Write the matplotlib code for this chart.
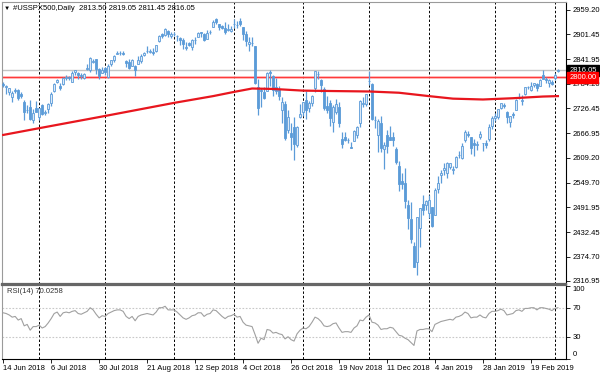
import numpy as np
import pandas as pd
import matplotlib
matplotlib.use("Agg")
import matplotlib.pyplot as plt

plt.rcParams['font.family'] = ['Liberation Sans', 'DejaVu Sans']

symbol = "#USSPX500,Daily"
holidays = ["2018-12-25", "2019-01-01"]

opens = [2783, 2777, 2765, 2752, 2769, 2770, 2760, 2742, 2722, 2729, 2699, 2728,
         2705, 2733, 2715, 2724, 2738, 2766, 2789, 2779, 2783, 2797, 2801, 2789,
         2811, 2810, 2804, 2799, 2820, 2817, 2837, 2842, 2819, 2809,
         2822, 2800, 2830, 2840, 2855, 2857, 2858, 2838, 2835, 2827, 2827, 2831,
         2838, 2853, 2861, 2860, 2860, 2862, 2885, 2901, 2900, 2909, 2898,
         2902, 2897, 2892, 2889, 2868, 2882, 2871, 2888, 2896, 2906, 2903, 2891,
         2906, 2919, 2937, 2925, 2921, 2917, 2911, 2910,
         2926, 2924, 2932, 2919, 2902, 2878, 2882, 2873, 2776, 2770, 2764, 2767,
         2811, 2802, 2776, 2773, 2721, 2737, 2675, 2667, 2682, 2640, 2706,
         2718, 2745, 2726, 2738, 2775, 2807, 2794, 2773, 2731, 2738, 2693, 2718,
         2730, 2654, 2657, 2650, 2634, 2649, 2664, 2691, 2736, 2737,
         2790, 2783, 2698, 2664, 2692, 2630, 2664, 2658, 2658, 2629, 2590, 2553,
         2548, 2496, 2465, 2401, 2363, 2442, 2499, 2498,
         2477, 2492, 2474, 2535, 2568, 2580, 2574, 2588, 2580, 2586, 2615, 2609,
         2652, 2666, 2658, 2643, 2638, 2657, 2644, 2644, 2653, 2685,
         2703, 2706, 2728, 2735, 2717, 2693, 2713, 2722, 2750, 2743, 2760, 2776,
         2770, 2781, 2784, 2780, 2805, 2795, 2787, 2789,
         2798, 2813.50]
highs = [2789, 2782, 2775, 2766, 2775, 2772, 2765, 2745, 2733, 2746, 2724, 2744,
         2727, 2737, 2722, 2738, 2764, 2785, 2795, 2785, 2800, 2805, 2803, 2814,
         2817, 2812, 2810, 2809, 2830, 2848, 2844, 2843, 2822, 2824,
         2825, 2830, 2841, 2853, 2863, 2862, 2862, 2841, 2843, 2843, 2828, 2850,
         2855, 2860, 2874, 2867, 2868, 2876, 2899, 2904, 2916, 2912, 2906,
         2907, 2900, 2894, 2893, 2884, 2884, 2891, 2895, 2906, 2908, 2905, 2912,
         2912, 2935, 2941, 2925, 2924, 2931, 2927, 2920,
         2937, 2932, 2940, 2919, 2910, 2894, 2894, 2874, 2795, 2775, 2776, 2813,
         2817, 2806, 2798, 2779, 2753, 2743, 2722, 2692, 2706, 2685, 2736,
         2741, 2767, 2744, 2757, 2815, 2815, 2795, 2776, 2755, 2746, 2735, 2747,
         2741, 2669, 2670, 2656, 2647, 2674, 2685, 2745, 2754, 2760,
         2815, 2786, 2708, 2700, 2708, 2646, 2674, 2685, 2671, 2635, 2601, 2573,
         2585, 2510, 2505, 2410, 2468, 2489, 2520, 2510,
         2520, 2493, 2538, 2566, 2580, 2596, 2598, 2597, 2590, 2612, 2626, 2645,
         2675, 2672, 2658, 2653, 2648, 2673, 2645, 2652, 2690, 2708,
         2716, 2725, 2738, 2739, 2720, 2709, 2718, 2748, 2762, 2758, 2776, 2779,
         2788, 2787, 2786, 2795, 2816, 2800, 2795, 2793,
         2809, 2819.05]
lows = [2776, 2761, 2757, 2741, 2762, 2745, 2751, 2698, 2715, 2699, 2692, 2717,
        2698, 2711, 2711, 2716, 2732, 2765, 2786, 2770, 2781, 2792, 2793, 2788,
        2806, 2796, 2795, 2795, 2816, 2812, 2833, 2808, 2796, 2809,
        2805, 2799, 2827, 2835, 2854, 2853, 2852, 2825, 2819, 2826, 2802, 2831,
        2833, 2850, 2858, 2856, 2853, 2860, 2884, 2893, 2898, 2895, 2893,
        2898, 2885, 2876, 2867, 2864, 2874, 2865, 2879, 2895, 2895, 2886, 2890,
        2903, 2918, 2927, 2912, 2913, 2903, 2910, 2907,
        2917, 2916, 2921, 2889, 2874, 2863, 2874, 2784, 2710, 2729, 2749, 2766,
        2779, 2756, 2760, 2746, 2692, 2651, 2667, 2628, 2604, 2635, 2703,
        2708, 2701, 2717, 2732, 2765, 2796, 2765, 2722, 2714, 2685, 2670, 2712,
        2681, 2631, 2648, 2644, 2631, 2649, 2656, 2682, 2729, 2732,
        2782, 2698, 2680, 2622, 2623, 2583, 2621, 2650, 2637, 2593, 2531, 2535,
        2489, 2441, 2408, 2351, 2332, 2397, 2473, 2486,
        2467, 2444, 2474, 2525, 2548, 2569, 2562, 2582, 2571, 2585, 2608, 2606,
        2647, 2658, 2617, 2613, 2628, 2654, 2624, 2633, 2648, 2678,
        2697, 2700, 2724, 2726, 2691, 2681, 2703, 2722, 2748, 2733, 2757, 2772,
        2767, 2776, 2767, 2778, 2795, 2787, 2776, 2782,
        2792, 2811.45]
closes = [2782, 2780, 2774, 2763, 2767, 2750, 2755, 2717, 2723, 2700, 2716, 2718,
          2727, 2713, 2718, 2737, 2760, 2784, 2794, 2774, 2798, 2801, 2798, 2810,
          2816, 2804, 2802, 2807, 2820, 2846, 2837, 2819, 2803, 2816,
          2813, 2827, 2840, 2850, 2858, 2858, 2854, 2833, 2822, 2840, 2818, 2841,
          2850, 2857, 2863, 2862, 2857, 2875, 2897, 2898, 2914, 2901, 2902,
          2903, 2897, 2889, 2878, 2872, 2877, 2888, 2889, 2904, 2905, 2889, 2904,
          2908, 2931, 2930, 2919, 2916, 2906, 2914, 2914,
          2925, 2923, 2926, 2902, 2886, 2884, 2880, 2786, 2728, 2767, 2751, 2810,
          2809, 2769, 2768, 2756, 2741, 2656, 2706, 2659, 2641, 2683, 2712,
          2740, 2723, 2738, 2755, 2814, 2807, 2781, 2726, 2722, 2702, 2730, 2736,
          2691, 2642, 2650, 2652, 2633, 2673, 2682, 2744, 2738, 2760,
          2790, 2700, 2698, 2696, 2633, 2638, 2637, 2651, 2651, 2600, 2546, 2546,
          2507, 2467, 2417, 2351, 2468, 2489, 2486, 2507,
          2510, 2448, 2532, 2550, 2574, 2585, 2597, 2596, 2583, 2610, 2616, 2636,
          2671, 2664, 2633, 2639, 2642, 2665, 2644, 2640, 2681, 2704,
          2707, 2725, 2738, 2732, 2706, 2708, 2710, 2745, 2753, 2746, 2776, 2777,
          2780, 2785, 2775, 2793, 2796, 2794, 2792, 2784,
          2804, 2816.05]

rsi = [63, 62, 60, 57, 58, 53, 55, 45, 47, 39, 44, 44, 46, 42, 44, 49, 55, 62, 64, 58,
       63, 64, 63, 65, 66, 62, 61, 63, 65, 70, 67, 61, 56, 59, 58, 62, 64, 66, 67, 67,
       65, 58, 55, 58, 52, 58, 60, 61, 62, 61, 60, 64, 70, 70, 72, 67, 67, 67, 64, 60,
       56, 54, 56, 59, 60, 63, 63, 58, 61, 62, 67, 66, 62, 58, 55, 58, 59, 61, 57, 58,
       50, 46, 45, 44, 33, 21, 28, 26, 40, 39, 35, 36, 34, 33, 27, 30, 26, 24, 34, 39,
       42, 41, 44, 50, 57, 55, 51, 45, 44, 45, 48, 49, 42, 36, 37, 37, 36, 42, 45, 53,
       52, 57, 60, 50, 49, 46, 40, 41, 41, 43, 42, 37, 32, 31, 28, 26, 22, 18, 38, 40,
       40, 41, 41, 37, 47, 49, 51, 52, 53, 54, 53, 57, 58, 60, 64, 62, 56, 57, 57, 60,
       57, 56, 62, 65, 65, 66, 68, 66, 60, 61, 62, 66, 67, 65, 69, 69, 70, 70, 67, 70,
       70, 69, 68, 66, 69, 70.0258]

# 200-day moving average, read at some bars
ma_bars = [0, 12, 34, 57, 70, 77, 83, 90, 100, 110, 122, 132, 142, 150, 160, 170, 180, 185]
ma_vals = [2663, 2679, 2708, 2739, 2755, 2765, 2773, 2772, 2768, 2767, 2766, 2763,
           2755, 2749, 2747, 2750, 2754, 2755]

price_ticks = [2959.20, 2901.45, 2841.95, 2784.20, 2726.45, 2666.95, 2609.20,
               2549.70, 2491.95, 2432.45, 2374.70, 2316.95]
rsi_ticks = [0, 30, 70, 100]
level = 2800.00

dates = pd.bdate_range("2018-06-14", "2019-03-04")
dates = dates[~dates.isin(pd.to_datetime(holidays))]

o = np.array(opens, float)
h = np.array(highs, float)
l = np.array(lows, float)
c = np.array(closes, float)
x = np.arange(len(c))

edge = '#5b9bd8'
bull_fill = '#dce9f7'

fig = plt.figure(figsize=(6, 3.75), dpi=100)
ax = fig.add_axes([2/600, 1-283.5/375, 564/600, 281.5/375])
ax2 = fig.add_axes([2/600, 1-358.5/375, 564/600, 74/375], sharex=ax)

# period separators (first bar of every month)
seps = [i for i in range(1, len(dates)) if dates[i].month != dates[i-1].month]
for a in (ax, ax2):
    for s in seps:
        a.axvline(s, color='black', lw=0.7, ls=(0, (2.5, 2)), zorder=1)

# candles
up = c >= o
ax.vlines(x, l, h, color=edge, lw=0.9, zorder=3)
ax.bar(x[up], np.maximum(c-o, 0.8)[up], bottom=o[up], width=0.7,
       color=bull_fill, edgecolor=edge, lw=0.6, zorder=4)
ax.bar(x[~up], (o-c)[~up], bottom=c[~up], width=0.7,
       color=edge, edgecolor=edge, lw=0.6, zorder=4)

# moving average, bid line, level
ax.plot(ma_bars, ma_vals, color='#e8161e', lw=1.6, zorder=5)
ax.axhline(c[-1], color='#c4c4c4', lw=1, zorder=2)
ax.axhline(level, color='#ffb0b0', lw=1.9, zorder=2)
ax.axhline(level, color='#ff3a3a', lw=0.8, zorder=2)

ax.set_xlim(-0.4, 187.7)
ax.set_ylim(2311, 2978)
ax.yaxis.tick_right()
ax.set_yticks(price_ticks)
ax.set_yticklabels([f"{v:.2f}" for v in price_ticks])
ax.tick_params(axis='y', length=3, width=0.6, pad=2, labelsize=5.5, colors='black')
ax.tick_params(axis='x', bottom=False, labelbottom=False)

ytr = ax.get_yaxis_transform()
ax.text(1.006, c[-1], f"{c[-1]:.2f}", transform=ytr, fontsize=5.5, color='white',
        va='center', ha='left', zorder=10, clip_on=False,
        bbox=dict(boxstyle='square,pad=0.25', fc='black', ec='black'))
ax.text(1.006, level, f"{level:.2f}", transform=ytr, fontsize=5.5, color='white',
        va='center', ha='left', zorder=10, clip_on=False,
        bbox=dict(boxstyle='square,pad=0.25', fc='#ff0000', ec='#ff0000'))

fig.text(4/600, 1-8/375, "▼", fontsize=4.5, va='center', ha='left', color='black')
fig.text(13/600, 1-8/375,
         f"{symbol}  {o[-1]:.2f} {h[-1]:.2f} {l[-1]:.2f} {c[-1]:.2f}",
         fontsize=5.5, va='center', ha='left', color='black')

for sp in ('left', 'top'):
    ax.spines[sp].set_color('#9a9a9a')
    ax.spines[sp].set_linewidth(0.8)
ax.spines['right'].set_color('black')
ax.spines['right'].set_linewidth(0.8)
ax.spines['bottom'].set_color('#666666')
ax.spines['bottom'].set_linewidth(1.6)

# RSI panel
ax2.plot(x, rsi, color='#a0a0a0', lw=0.8, zorder=3)
for lv in (30, 70):
    ax2.axhline(lv, color='#c8c8c8', lw=0.8, ls=(0, (1.5, 1.5)), zorder=2)
ax2.set_ylim(0, 102)
ax2.yaxis.tick_right()
ax2.set_yticks(rsi_ticks)
ax2.set_yticklabels([str(v) for v in rsi_ticks])
for t, v in zip(ax2.get_yticklabels(), rsi_ticks):
    if v == 100:
        t.set_va('top')
    elif v == 0:
        t.set_va('bottom')
ax2.tick_params(axis='y', length=3, width=0.6, pad=2, labelsize=5.5, colors='black')
ax2.text(5/564, 0.9, f"RSI(14) {rsi[-1]:.4f}", transform=ax2.transAxes,
         fontsize=5.5, color='#333333', va='center', ha='left')

label_bars = list(range(0, len(dates), 16))
ax2.set_xticks(label_bars)
ax2.set_xticklabels([f"{dates[i].day} {dates[i].strftime('%b %Y')}" for i in label_bars],
                    ha='left')
ax2.tick_params(axis='x', length=3, width=0.6, pad=1.5, labelsize=5.5, colors='black')
ax2.spines['top'].set_color('#666666')
ax2.spines['top'].set_linewidth(1.6)
ax2.spines['left'].set_color('#9a9a9a')
ax2.spines['left'].set_linewidth(0.8)
ax2.spines['right'].set_color('black')
ax2.spines['right'].set_linewidth(0.8)
ax2.spines['bottom'].set_color('black')
ax2.spines['bottom'].set_linewidth(0.8)

fig.savefig("out.png", dpi=100)
